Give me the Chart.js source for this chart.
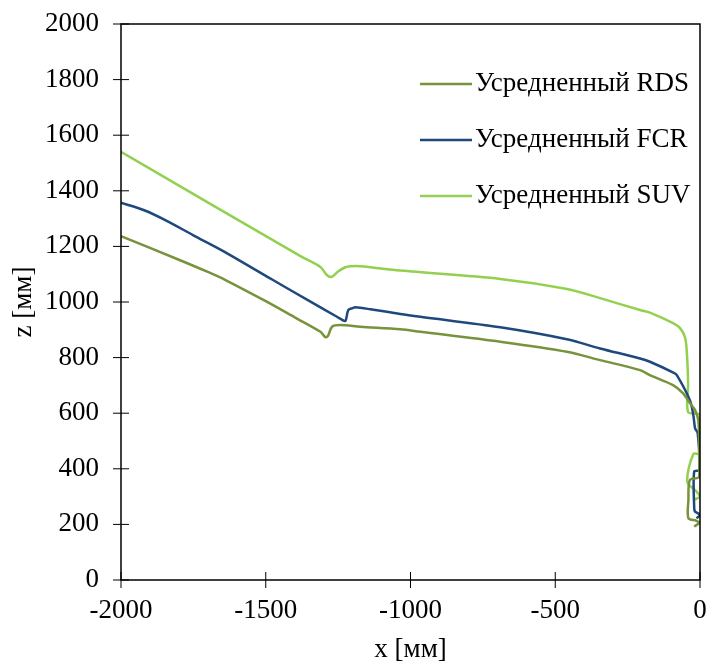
<!DOCTYPE html>
<html>
<head>
<meta charset="utf-8">
<script src="https://cdn.jsdelivr.net/npm/chart.js@4"></script>
<style>
  html, body { margin: 0; padding: 0; background: #fff; }
  #wrap { width: 708px; height: 662px; }
</style>
</head>
<body>
<div id="wrap"><canvas id="chart"></canvas></div>
<script>
/* ========= Data ========= */
const seriesNames = ['Усредненный RDS', 'Усредненный FCR', 'Усредненный SUV'];
const seriesColors = ['#77933C', '#1F497D', '#92D050'];

const rdsX = [-2000, -1800, -1700, -1639, -1500, -1400, -1311, -1300, -1294, -1285, -1271, -1242, -1173, -1035, -966, -690, -460, -345, -207, -173, -93, -59, -35, -17, -6, -3, -3, -3, -35, -40, -40, -12, -3, -20];
const rdsZ = [1237, 1152, 1108, 1079, 1003, 945, 893, 880, 873, 878, 911, 917, 911, 902, 893, 857, 821, 791, 755, 737, 701, 672, 637, 611, 575, 504, 443, 371, 360, 288, 222, 213, 206, 192];

const fcrX = [-2000, -1920, -1842, -1750, -1650, -1475, -1350, -1254, -1240, -1225, -1215, -1200, -1191, -1139, -1035, -966, -690, -460, -345, -207, -173, -92, -80, -35, -23, -17, -8, -2, -20, -20, -17, 0, -12];
const fcrZ = [1357, 1330, 1292, 1240, 1185, 1079, 1004, 947, 938, 932, 971, 978, 981, 974, 957, 947, 909, 866, 833, 797, 785, 746, 737, 647, 593, 546, 529, 396, 390, 258, 246, 234, 222];

const suvX = [-2000, -1380, -1311, -1290, -1273, -1250, -1225, -1208, -1173, -1035, -690, -459, -345, -207, -173, -93, -69, -52, -46, -41, -41, 0, 0, -23, -44, -12, 0, -23];
const suvZ = [1540, 1165, 1126, 1098, 1090, 1110, 1125, 1129, 1129, 1113, 1083, 1047, 1014, 971, 962, 924, 906, 874, 827, 708, 604, 594, 456, 453, 354, 318, 300, 288];

const xTicks = [-2000, -1500, -1000, -500, 0];
const zTicks = [0, 200, 400, 600, 800, 1000, 1200, 1400, 1600, 1800, 2000];

const FONT = '"Liberation Serif", "Times New Roman", serif';

function toPoints(xs, zs) {
  return xs.map((x, i) => ({ x, y: zs[i] }));
}

/* ========= Plugin: box, crossing ticks, legend ========= */
const frame = {
  id: 'frame',
  afterDraw(chart) {
    const { ctx, chartArea: a, scales } = chart;
    ctx.save();
    ctx.strokeStyle = '#000';
    ctx.lineWidth = 1.5;
    ctx.strokeRect(a.left, a.top, a.right - a.left, a.bottom - a.top);

    ctx.lineWidth = 1;
    ctx.beginPath();
    xTicks.forEach(v => {
      const px = scales.x.getPixelForValue(v);
      ctx.moveTo(px, a.bottom - 8);
      ctx.lineTo(px, a.bottom + 8);
    });
    zTicks.forEach(v => {
      const py = scales.y.getPixelForValue(v);
      ctx.moveTo(a.left - 8, py);
      ctx.lineTo(a.left + 8, py);
    });
    ctx.stroke();

    // legend
    ctx.font = '27px ' + FONT;
    ctx.fillStyle = '#000';
    ctx.textBaseline = 'middle';
    seriesNames.forEach((name, i) => {
      const y = 84 + i * 56;
      ctx.strokeStyle = seriesColors[i];
      ctx.lineWidth = 2.5;
      ctx.beginPath();
      ctx.moveTo(420, y);
      ctx.lineTo(472, y);
      ctx.stroke();
      ctx.fillText(name, 475, y);
    });
    ctx.restore();
  }
};

/* ========= Chart ========= */
new Chart(document.getElementById('chart'), {
  type: 'scatter',
  data: {
    datasets: [
      { label: seriesNames[0], data: toPoints(rdsX, rdsZ) },
      { label: seriesNames[1], data: toPoints(fcrX, fcrZ) },
      { label: seriesNames[2], data: toPoints(suvX, suvZ) }
    ].map((d, i) => ({
      ...d,
      showLine: true,
      borderColor: seriesColors[i],
      backgroundColor: seriesColors[i],
      borderWidth: 2.5,
      pointRadius: 0,
      tension: 0.3
    }))
  },
  options: {
    responsive: true,
    maintainAspectRatio: false,
    animation: false,
    layout: { padding: { top: 24, right: 8, left: 0, bottom: 0 } },
    plugins: {
      legend: { display: false },
      tooltip: { enabled: false }
    },
    scales: {
      x: {
        type: 'linear',
        min: -2000, max: 0,
        afterBuildTicks: s => { s.ticks = xTicks.map(v => ({ value: v })); },
        afterFit: s => { s.height = 82; s.paddingLeft = 0; s.paddingRight = 0; },
        grid: { display: false, drawTicks: false },
        border: { display: false },
        ticks: { color: '#000', font: { family: FONT, size: 27 }, padding: 15, maxRotation: 0, callback: v => String(v) },
        title: { display: true, text: 'x [мм]', color: '#000', font: { family: FONT, size: 27 }, padding: { top: 0, bottom: -4 } }
      },
      y: {
        type: 'linear',
        min: 0, max: 2000,
        afterBuildTicks: s => { s.ticks = zTicks.map(v => ({ value: v })); },
        afterFit: s => { s.width = 121; s.paddingTop = 0; s.paddingBottom = 0; },
        grid: { display: false, drawTicks: false },
        border: { display: false },
        ticks: { color: '#000', font: { family: FONT, size: 27 }, padding: 22, callback: v => String(v) },
        title: { display: true, text: 'z [мм]', color: '#000', font: { family: FONT, size: 27 }, padding: 8 }
      }
    }
  },
  plugins: [frame]
});
</script>
</body>
</html>
